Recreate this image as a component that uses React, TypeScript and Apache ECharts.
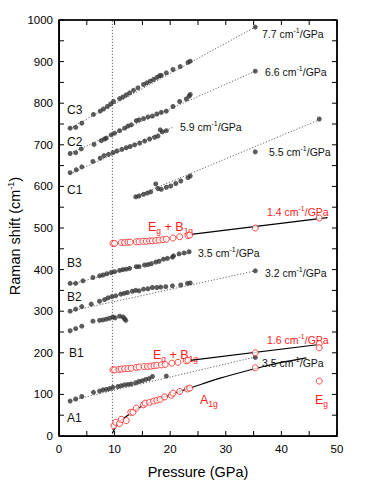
import React, { useEffect, useRef } from 'react';
import * as echarts from 'echarts';

// ---- data: [pressure (GPa), Raman shift (cm-1)] ----
const c3 = [[2.0,740],[3.0,742],[4.1,752],[6.2,773],[7.4,781],[8.0,786],[8.7,792],[9.3,798],[9.8,804],[10.9,811],[11.5,815],[12.1,820],[12.7,825],[13.4,831],[14.2,837],[15.2,845],[15.8,849],[16.4,853],[17.0,857],[17.6,862],[18.1,866],[18.4,867],[19.3,873],[20.5,881],[21.8,888],[23.2,898],[23.6,901],[35.3,983]];
const c2 = [[2.0,679],[3.0,681],[4.0,690],[6.3,701],[7.6,710],[8.2,714],[8.5,716],[9.4,724],[10.0,728],[10.9,734],[11.8,740],[12.4,745],[13.0,748],[13.9,758],[14.4,760],[15.2,763],[16.0,767],[16.8,769],[17.6,774],[18.4,778],[19.3,781],[20.5,792],[21.7,804],[22.9,810],[23.4,817],[23.6,821],[35.3,877]];
const c1a = [[2.0,633],[3.1,640],[4.1,647],[6.1,660],[7.4,668],[8.1,674],[8.9,677],[9.7,681],[10.4,685],[11.3,689],[12.1,693],[12.8,696],[13.6,700],[14.5,704],[15.4,709],[16.3,714],[17.2,718],[17.8,721],[18.2,736],[18.6,731],[19.3,734]];
const c1b = [[13.8,575],[14.4,577],[15.2,581],[15.9,584],[16.5,587],[17.4,606],[17.8,595],[18.4,593],[19.3,598],[20.1,601],[21.0,607],[21.9,613],[23.2,621],[23.6,625],[35.3,683],[46.8,762]];
const b3 = [[2.0,367],[3.0,367],[4.3,373],[6.1,381],[7.3,385],[7.9,387],[8.6,390],[9.4,393],[10.0,395],[10.9,398],[11.5,400],[12.1,401],[12.7,403],[13.9,407],[14.4,407],[15.4,411],[16.0,412],[16.6,414],[17.4,418],[18.0,420],[18.8,425],[19.5,427],[20.4,430],[20.6,433],[21.6,438],[22.5,440],[23.4,443]];
const b2 = [[2.0,300],[3.0,305],[4.1,311],[5.8,317],[7.3,324],[8.2,328],[8.8,332],[9.5,335],[10.2,337],[11.1,341],[11.7,343],[12.3,345],[13.2,348],[13.8,350],[14.4,349],[15.2,353],[16.0,354],[16.8,357],[17.6,357],[18.3,358],[19.2,359],[20.4,361],[21.9,363],[23.1,367],[23.6,368],[35.3,397]];
const b1 = [[2.0,253],[3.0,258],[4.1,264],[6.1,276],[7.3,278],[7.9,279],[8.5,281],[9.1,283],[9.7,286],[10.1,284],[10.9,288],[11.5,286],[11.8,282],[12.0,278]];
const a1 = [[2.0,84],[3.0,89],[4.1,95],[6.2,105],[7.3,108],[7.9,111],[8.5,112],[9.1,114],[9.7,117],[10.6,119],[11.2,121],[11.8,123],[12.4,124],[13.0,125],[13.8,128],[14.4,131],[15.0,133],[15.6,136],[16.2,138],[16.8,143],[19.3,144],[35.3,189]];
const ebUpper = [[9.7,463],[10.0,463],[11.2,465],[11.8,465],[12.4,466],[12.8,466],[13.9,467],[14.4,467],[15.1,468],[15.7,468],[16.3,469],[16.8,469],[17.4,470],[18.0,471],[18.7,472],[19.3,473],[20.5,476],[21.7,479],[23.2,482],[23.5,483],[35.3,500],[46.8,524]];
const ebLower = [[9.7,159],[10.0,159],[10.8,160],[11.2,161],[11.8,162],[12.4,162],[13.0,163],[13.9,165],[14.4,166],[15.3,167],[15.9,167],[16.5,168],[17.1,169],[17.6,170],[18.4,171],[19.1,172],[20.3,175],[21.4,177],[22.9,181],[23.2,182],[35.3,200],[46.8,222],[46.8,212]];
const a1g = [[9.9,25],[10.2,33],[10.9,30],[11.2,40],[12.1,37],[12.9,57],[13.3,57],[13.9,67],[15.2,75],[15.5,79],[16.3,81],[17.0,84],[17.6,86],[18.2,88],[19.0,94],[20.2,98],[20.5,103],[21.7,107],[23.1,113],[23.5,115],[35.3,164]];
const eg = [[46.8,132]];

// fitted guide lines
const fitC3 = [[2.0,740],[35.3,983]];
const fitC2 = [[2.0,680],[35.3,877]];
const fitC1a = [[2.0,630],[20.6,743]];
const fitC1b = [[13.8,576],[46.8,760]];
const fitB3 = [[2.0,364],[23.9,443]];
const fitB2 = [[2.0,300],[35.3,397]];
const fitA1 = [[2.0,85],[35.3,190]];
const fitEbUpper = [[23.4,484],[48.3,525]];
const fitEbLower = [[23.2,181],[46.8,220]];
const fitA1g = [[9.6,6],[10.3,25],[11.2,38],[12.2,48],[13.5,61],[15.0,72],[17.0,84],[19.0,94],[21.0,104],[23.5,115],[29.0,139],[35.3,162],[40.0,177],[44.5,188]];
const transitionP = 9.6;
const transitionLine = [[transitionP,0],[transitionP,1000]];

// axes: ranges, tick values, label step
const xMin = 0, xMax = 50, xLabelStep = 10;
const yMin = 0, yMax = 1000, yLabelStep = 100;
const xTickValues = [0,5,10,15,20,25,30,35,40,45,50];
const yTickValues = [0,50,100,150,200,250,300,350,400,450,500,550,600,650,700,750,800,850,900,950,1000];

const FONT = '"Liberation Sans", Arial, Helvetica, sans-serif';
const W = 374, H = 484;
const G = { left: 59, right: 37, top: 20, bottom: 44 };

export default function App() {
  const ref = useRef<HTMLDivElement>(null);
  useEffect(() => {
    if (!ref.current) return;
    const chart = echarts.init(ref.current, null, { renderer: 'svg' });
    const dark = '#333333';
    const red = '#ff1a1a';

    const frame = [[xMin, yMin], [xMax, yMin], [xMax, yMax], [xMin, yMax], [xMin, yMin]];

    const dotted = (data: number[][]) => ({
      type: 'line', data, symbol: 'none', silent: true, z: 1,
      lineStyle: { color: '#666', width: 1, type: [1.2, 1.8] },
    });
    const solid = (data: number[][], smooth = false) => ({
      type: 'line', data, symbol: 'none', silent: true, z: 1, smooth: smooth ? 0.4 : false,
      lineStyle: { color: '#000', width: 1.2 },
    });
    const dots = (data: number[][]) => ({
      type: 'scatter', data, symbol: 'circle', symbolSize: 5, z: 3,
      itemStyle: { color: dark },
    });
    const rings = (data: number[][]) => ({
      type: 'scatter', data, symbol: 'circle', symbolSize: 6, z: 4,
      itemStyle: { color: '#fff', borderColor: red, borderWidth: 1 },
    });
    const sup = { fontSize: 7, lineHeight: 7, verticalAlign: 'top', fontFamily: FONT };
    const base = (size: number, color: string) => ({ fontSize: size, lineHeight: 16, fontFamily: FONT, fill: color, color });
    const sub = (size: number) => ({ fontSize: size, lineHeight: 7, verticalAlign: 'bottom', fontFamily: FONT });
    const slope = (txt: string, x: number, y: number, color = '#111') => ({
      type: 'text', x, y, silent: true,
      style: {
        text: `{m|${txt} cm}{s|-1}{m|/GPa}`,
        align: 'left', textAlign: 'left', verticalAlign: 'middle', textVerticalAlign: 'middle',
        fill: color,
        rich: { m: { ...base(10.5, color), lineHeight: 14 }, s: { ...sup, fill: color, color } },
      },
    });
    const plain = (txt: string, x: number, y: number) => ({
      type: 'text', x, y, silent: true,
      style: { text: txt, fill: '#111', font: `12px ${FONT}`, align: 'left', textAlign: 'left', verticalAlign: 'middle', textVerticalAlign: 'middle' },
    });
    const ebText = (x: number, y: number) => ({
      type: 'text', x, y, silent: true,
      style: {
        text: '{m|E}{b|g}{m| + B}{b|1g}',
        align: 'left', textAlign: 'left', verticalAlign: 'middle', textVerticalAlign: 'middle', fill: red,
        rich: { m: { ...base(12.5, red) }, b: { ...sub(8.5), fill: red, color: red } },
      },
    });
    const symText = (main: string, s: string, x: number, y: number) => ({
      type: 'text', x, y, silent: true,
      style: {
        text: `{m|${main}}{b|${s}}`,
        align: 'left', textAlign: 'left', verticalAlign: 'middle', textVerticalAlign: 'middle', fill: red,
        rich: { m: { ...base(12.5, red) }, b: { ...sub(8.5), fill: red, color: red } },
      },
    });

    const labelFmt = (step: number) => (v: number) => (Math.abs(v / step - Math.round(v / step)) < 1e-6 ? String(v) : '');

    chart.setOption({
      animation: false,
      grid: { ...G, show: true, borderColor: '#000', borderWidth: 1 },
      xAxis: {
        type: 'value', min: xMin, max: xMax, interval: xLabelStep,
        axisLine: { show: true, lineStyle: { color: '#000', width: 1 } }, axisTick: { show: false }, splitLine: { show: false },
        axisLabel: { color: '#000', fontSize: 11.5, fontFamily: FONT, margin: 7, formatter: labelFmt(xLabelStep) },
        name: 'Pressure (GPa)', nameLocation: 'middle', nameGap: 28,
        nameTextStyle: { color: '#000', fontSize: 14.5, fontFamily: FONT },
      },
      yAxis: {
        type: 'value', min: yMin, max: yMax, interval: yLabelStep,
        axisLine: { show: true, lineStyle: { color: '#000', width: 1 } }, axisTick: { show: false }, splitLine: { show: false },
        axisLabel: { color: '#000', fontSize: 11.5, fontFamily: FONT, margin: 6, formatter: labelFmt(yLabelStep) },
      },
      series: [
        dotted(transitionLine),
        dotted(fitC3), dotted(fitC2), dotted(fitC1a), dotted(fitC1b),
        dotted(fitB3), dotted(fitB2), dotted(fitA1),
        solid(fitEbUpper), solid(fitEbLower), solid(fitA1g, true),
        dots(c3), dots(c2), dots(c1a), dots(c1b), dots(b3), dots(b2), dots(b1), dots(a1),
        rings(ebUpper), rings(ebLower), rings(a1g), rings(eg),
        { type: 'line', data: frame, symbol: 'none', silent: true, clip: false, z: 10, lineStyle: { color: '#000', width: 1.2 } },
      ],
    });

    // frame and inward ticks placed through the axes' own scales
    const toPx = (p: number[]) => chart.convertToPixel({ gridIndex: 0 }, p) as number[];
    const [x0, y0] = toPx([xMin, yMin]);
    const [x1, y1] = toPx([xMax, yMax]);
    const TL = 5;
    const lineStyle = { stroke: '#000', lineWidth: 1 };
    const deco: any[] = [
      { type: 'rect', z: 100, silent: true, shape: { x: x0, y: y1, width: x1 - x0, height: y0 - y1 }, style: { fill: 'none', stroke: '#000', lineWidth: 1.2 } },
    ];
    xTickValues.forEach((v) => {
      const px = toPx([v, yMin])[0];
      deco.push({ type: 'line', z: 100, silent: true, shape: { x1: px, y1: y0, x2: px, y2: y0 - TL }, style: lineStyle });
      deco.push({ type: 'line', z: 100, silent: true, shape: { x1: px, y1: y1, x2: px, y2: y1 + TL }, style: lineStyle });
    });
    yTickValues.forEach((v) => {
      const py = toPx([xMin, v])[1];
      deco.push({ type: 'line', z: 100, silent: true, shape: { x1: x0, y1: py, x2: x0 + TL, y2: py }, style: lineStyle });
      deco.push({ type: 'line', z: 100, silent: true, shape: { x1: x1, y1: py, x2: x1 - TL, y2: py }, style: lineStyle });
    });

    chart.setOption({
      graphic: [
        {
          type: 'text', x: 15, y: 236, rotation: Math.PI / 2, silent: true,
          style: {
            text: '{m|Raman shift (cm}{s|-1}{m|)}',
            align: 'center', textAlign: 'center', verticalAlign: 'middle', textVerticalAlign: 'middle', fill: '#000',
            rich: { m: { fontSize: 14.5, lineHeight: 18, fontFamily: FONT, fill: '#000' }, s: { fontSize: 9, lineHeight: 9, verticalAlign: 'top', fontFamily: FONT, fill: '#000' } },
          },
        },
        plain('C3', 67, 110), plain('C2', 67, 142), plain('C1', 67, 190),
        plain('B3', 67, 263), plain('B2', 67, 297), plain('B1', 69, 353), plain('A1', 67, 418),
        slope('7.7', 262, 34), slope('6.6', 265, 72), slope('5.9', 180, 127), slope('5.5', 269, 152),
        slope('1.4', 267, 212, red), slope('3.5', 198, 253), slope('3.2', 265, 273),
        slope('1.6', 267, 340, red), slope('3.5', 262, 363),
        ebText(148, 227), ebText(153, 355),
        symText('A', '1g', 200, 400), symText('E', 'g', 315, 400),
        ...deco,
      ],
    });
    return () => chart.dispose();
  }, []);
  return <div ref={ref} style={{ position: 'absolute', left: 0, top: 0, width: W, height: H }} />;
}
